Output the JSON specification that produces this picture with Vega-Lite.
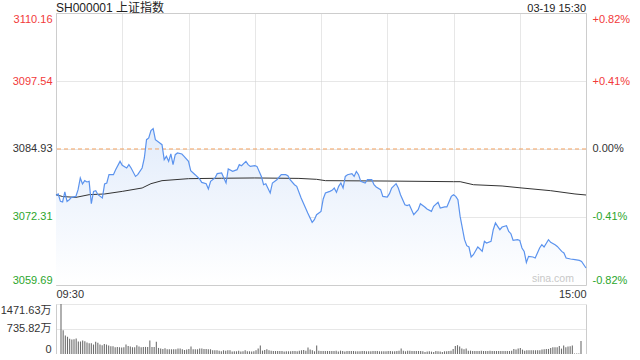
{
  "$schema": "https://vega.github.io/schema/vega-lite/v6.json",
  "autosize": {"type": "pad"},
  "padding": {"left": 0, "top": 1, "right": 0, "bottom": 0},
  "background": "white",
  "bounds": "flush",
  "spacing": 19,
  "config": {
    "font": "Liberation Sans, Noto Sans CJK SC",
    "view": {"stroke": "#cccccc"},
    "axis": {
      "labelFont": "Liberation Sans, Noto Sans CJK SC",
      "labelFontSize": 11,
      "labelColor": "#333333",
      "ticks": false,
      "domain": false,
      "gridColor": "#cfcfcf",
      "gridDash": [1, 1],
      "title": null
    }
  },
  "datasets": {
    "price": [
      {"t":0,"price":3076.32},{"t":1,"price":3076.58},{"t":2,"price":3075.21},{"t":3,"price":3075.09},{"t":4,"price":3076.95},{"t":5,"price":3075.21},{"t":6,"price":3075.52},{"t":7,"price":3075.95},{"t":9,"price":3076.13},{"t":10,"price":3077.38},
      {"t":11,"price":3079.55},{"t":12,"price":3078.43},{"t":13,"price":3079.05},{"t":14,"price":3078.81},{"t":15,"price":3078.92},{"t":16,"price":3074.78},{"t":17,"price":3077.06},{"t":18,"price":3077.19},{"t":19,"price":3076.45},{"t":21,"price":3075.84},
      {"t":22,"price":3078.43},{"t":23,"price":3078.62},{"t":24,"price":3080.16},{"t":26,"price":3080.16},{"t":27,"price":3081.09},{"t":29,"price":3082.63},{"t":30,"price":3081.89},{"t":32,"price":3081.40},{"t":33,"price":3082.02},{"t":34,"price":3081.40},
      {"t":36,"price":3079.84},{"t":37,"price":3080.16},{"t":39,"price":3081.40},{"t":40,"price":3083.26},{"t":41,"price":3086.66},{"t":42,"price":3086.97},{"t":43,"price":3088.33},{"t":44,"price":3088.70},{"t":45,"price":3086.66},{"t":47,"price":3086.04},
      {"t":48,"price":3085.73},{"t":49,"price":3082.94},{"t":50,"price":3083.56},{"t":51,"price":3082.63},{"t":52,"price":3084.00},{"t":53,"price":3082.02},{"t":54,"price":3083.87},{"t":55,"price":3084.19},{"t":57,"price":3084.00},{"t":58,"price":3083.56},
      {"t":60,"price":3082.63},{"t":61,"price":3080.90},{"t":63,"price":3080.16},{"t":65,"price":3079.36},{"t":66,"price":3078.73},{"t":68,"price":3078.49},{"t":69,"price":3077.51},{"t":70,"price":3078.92},{"t":72,"price":3079.55},{"t":73,"price":3080.35},
      {"t":75,"price":3080.48},{"t":77,"price":3078.62},{"t":78,"price":3081.22},{"t":80,"price":3080.77},{"t":82,"price":3081.09},{"t":83,"price":3082.02},{"t":84,"price":3081.83},{"t":86,"price":3082.63},{"t":87,"price":3082.02},{"t":88,"price":3081.70},
      {"t":90,"price":3081.83},{"t":91,"price":3081.70},{"t":93,"price":3079.84},{"t":94,"price":3078.30},{"t":95,"price":3078.49},{"t":97,"price":3076.76},{"t":98,"price":3078.62},{"t":100,"price":3079.23},{"t":102,"price":3080.16},{"t":104,"price":3080.16},
      {"t":105,"price":3079.97},{"t":106,"price":3079.23},{"t":108,"price":3078.30},{"t":109,"price":3077.99},{"t":111,"price":3075.84},{"t":112,"price":3074.91},{"t":114,"price":3073.05},{"t":116,"price":3071.31},{"t":117,"price":3071.81},{"t":118,"price":3072.74},
      {"t":120,"price":3073.35},{"t":121,"price":3075.65},{"t":122,"price":3076.76},{"t":124,"price":3077.06},{"t":125,"price":3077.25},{"t":126,"price":3077.69},{"t":127,"price":3076.88},{"t":128,"price":3077.99},{"t":129,"price":3078.62},{"t":130,"price":3077.69},
      {"t":131,"price":3079.84},{"t":132,"price":3080.16},{"t":134,"price":3080.35},{"t":135,"price":3079.84},{"t":136,"price":3080.77},{"t":137,"price":3080.16},{"t":138,"price":3078.92},{"t":140,"price":3078.62},{"t":141,"price":3079.23},{"t":143,"price":3079.23},
      {"t":144,"price":3078.30},{"t":145,"price":3077.88},{"t":147,"price":3077.38},{"t":148,"price":3076.13},{"t":150,"price":3076.02},{"t":151,"price":3076.63},{"t":152,"price":3077.69},{"t":154,"price":3078.49},{"t":155,"price":3077.69},{"t":156,"price":3076.45},
      {"t":158,"price":3074.59},{"t":159,"price":3074.41},{"t":160,"price":3074.59},{"t":162,"price":3072.74},{"t":164,"price":3073.66},{"t":165,"price":3074.78},{"t":167,"price":3074.17},{"t":168,"price":3073.79},{"t":170,"price":3073.35},{"t":171,"price":3074.28},
      {"t":173,"price":3075.02},{"t":174,"price":3073.98},{"t":176,"price":3074.17},{"t":177,"price":3074.17},{"t":179,"price":3076.13},{"t":180,"price":3076.45},{"t":181,"price":3076.13},{"t":182,"price":3075.52},{"t":183,"price":3072.42},{"t":185,"price":3068.10},
      {"t":186,"price":3066.98},{"t":187,"price":3066.74},{"t":188,"price":3064.89},{"t":189,"price":3065.31},{"t":191,"price":3066.74},{"t":192,"price":3066.37},{"t":193,"price":3065.93},{"t":194,"price":3067.78},{"t":195,"price":3067.48},{"t":197,"price":3067.78},
      {"t":198,"price":3069.95},{"t":199,"price":3071.20},{"t":200,"price":3070.57},{"t":201,"price":3069.95},{"t":202,"price":3070.45},{"t":204,"price":3070.70},{"t":205,"price":3069.64},{"t":206,"price":3069.21},{"t":207,"price":3067.97},{"t":209,"price":3068.10},
      {"t":210,"price":3067.97},{"t":211,"price":3066.56},{"t":212,"price":3065.93},{"t":213,"price":3063.88},{"t":214,"price":3065.00},{"t":216,"price":3064.89},{"t":217,"price":3064.70},{"t":219,"price":3066.56},{"t":220,"price":3067.17},{"t":221,"price":3066.74},
      {"t":223,"price":3068.10},{"t":224,"price":3067.60},{"t":226,"price":3067.17},{"t":227,"price":3066.85},{"t":229,"price":3065.93},{"t":230,"price":3065.63},{"t":231,"price":3064.70},{"t":233,"price":3064.52},{"t":235,"price":3064.39},{"t":237,"price":3064.26},
      {"t":238,"price":3064.07},{"t":240,"price":3062.84}
    ],
    "avg": [
      {"t":0,"avg":3076.45},{"t":3,"avg":3076.10},{"t":9,"avg":3075.95},{"t":15,"avg":3076.45},{"t":22,"avg":3076.58},{"t":30,"avg":3077.06},{"t":39,"avg":3077.69},{"t":43,"avg":3078.49},{"t":48,"avg":3079.05},{"t":60,"avg":3079.42},
      {"t":75,"avg":3079.50},{"t":90,"avg":3079.55},{"t":110,"avg":3079.47},{"t":118,"avg":3079.30},{"t":122,"avg":3079.05},{"t":150,"avg":3078.98},{"t":180,"avg":3078.86},{"t":183,"avg":3078.86},{"t":189,"avg":3078.30},{"t":202,"avg":3078.06},
      {"t":211,"avg":3077.69},{"t":224,"avg":3077.19},{"t":235,"avg":3076.58},{"t":240,"avg":3076.39}
    ],
    "vol": [
      {"t":0,"vol":1471.63},{"t":1,"vol":696},{"t":2,"vol":547},{"t":3,"vol":507},{"t":4,"vol":447},{"t":5,"vol":427},{"t":6,"vol":437},{"t":7,"vol":457},{"t":8,"vol":368},{"t":9,"vol":368},
      {"t":10,"vol":398},{"t":11,"vol":378},{"t":12,"vol":338},{"t":13,"vol":318},{"t":14,"vol":318},{"t":15,"vol":278},{"t":16,"vol":358},{"t":17,"vol":328},{"t":18,"vol":278},{"t":19,"vol":258},
      {"t":20,"vol":298},{"t":21,"vol":278},{"t":22,"vol":248},{"t":23,"vol":229},{"t":24,"vol":229},{"t":25,"vol":199},{"t":26,"vol":209},{"t":27,"vol":199},{"t":28,"vol":189},{"t":29,"vol":199},
      {"t":30,"vol":278},{"t":31,"vol":239},{"t":32,"vol":219},{"t":33,"vol":199},{"t":34,"vol":199},{"t":35,"vol":259},{"t":36,"vol":219},{"t":37,"vol":199},{"t":38,"vol":209},{"t":39,"vol":209},
      {"t":40,"vol":209},{"t":41,"vol":398},{"t":42,"vol":209},{"t":43,"vol":209},{"t":44,"vol":358},{"t":45,"vol":179},{"t":46,"vol":159},{"t":47,"vol":149},{"t":48,"vol":169},{"t":49,"vol":139},
      {"t":50,"vol":139},{"t":51,"vol":139},{"t":52,"vol":139},{"t":53,"vol":139},{"t":54,"vol":159},{"t":55,"vol":159},{"t":56,"vol":139},{"t":57,"vol":119},{"t":58,"vol":129},{"t":59,"vol":149},
      {"t":60,"vol":219},{"t":61,"vol":139},{"t":62,"vol":139},{"t":63,"vol":139},{"t":64,"vol":159},{"t":65,"vol":159},{"t":66,"vol":149},{"t":67,"vol":149},{"t":68,"vol":139},{"t":69,"vol":139},
      {"t":70,"vol":109},{"t":71,"vol":109},{"t":72,"vol":109},{"t":73,"vol":99},{"t":74,"vol":80},{"t":75,"vol":109},{"t":76,"vol":99},{"t":77,"vol":109},{"t":78,"vol":109},{"t":79,"vol":70},
      {"t":80,"vol":80},{"t":81,"vol":80},{"t":82,"vol":99},{"t":83,"vol":70},{"t":84,"vol":80},{"t":85,"vol":109},{"t":86,"vol":80},{"t":87,"vol":80},{"t":88,"vol":70},{"t":89,"vol":80},
      {"t":90,"vol":109},{"t":91,"vol":159},{"t":92,"vol":248},{"t":93,"vol":99},{"t":94,"vol":119},{"t":95,"vol":139},{"t":96,"vol":109},{"t":97,"vol":99},{"t":98,"vol":89},{"t":99,"vol":89},
      {"t":100,"vol":89},{"t":101,"vol":89},{"t":102,"vol":89},{"t":103,"vol":70},{"t":104,"vol":80},{"t":105,"vol":80},{"t":106,"vol":80},{"t":107,"vol":89},{"t":108,"vol":89},{"t":109,"vol":80},
      {"t":110,"vol":99},{"t":111,"vol":109},{"t":112,"vol":119},{"t":113,"vol":99},{"t":114,"vol":190},{"t":115,"vol":129},{"t":116,"vol":109},{"t":117,"vol":80},{"t":118,"vol":248},{"t":119,"vol":99},
      {"t":120,"vol":89},{"t":121,"vol":89},{"t":122,"vol":89},{"t":123,"vol":89},{"t":124,"vol":89},{"t":125,"vol":89},{"t":126,"vol":89},{"t":127,"vol":99},{"t":128,"vol":70},{"t":129,"vol":99},
      {"t":130,"vol":89},{"t":131,"vol":70},{"t":132,"vol":89},{"t":133,"vol":89},{"t":134,"vol":89},{"t":135,"vol":89},{"t":136,"vol":80},{"t":137,"vol":80},{"t":138,"vol":80},{"t":139,"vol":89},
      {"t":140,"vol":89},{"t":141,"vol":80},{"t":142,"vol":80},{"t":143,"vol":80},{"t":144,"vol":89},{"t":145,"vol":89},{"t":146,"vol":89},{"t":147,"vol":80},{"t":148,"vol":80},{"t":149,"vol":80},
      {"t":150,"vol":80},{"t":151,"vol":89},{"t":152,"vol":89},{"t":153,"vol":80},{"t":154,"vol":80},{"t":155,"vol":89},{"t":156,"vol":99},{"t":157,"vol":159},{"t":158,"vol":99},{"t":159,"vol":80},
      {"t":160,"vol":99},{"t":161,"vol":99},{"t":162,"vol":89},{"t":163,"vol":89},{"t":164,"vol":89},{"t":165,"vol":89},{"t":166,"vol":89},{"t":167,"vol":80},{"t":168,"vol":60},{"t":169,"vol":70},
      {"t":170,"vol":80},{"t":171,"vol":70},{"t":172,"vol":60},{"t":173,"vol":89},{"t":174,"vol":80},{"t":175,"vol":70},{"t":176,"vol":60},{"t":177,"vol":80},{"t":178,"vol":80},{"t":179,"vol":89},
      {"t":180,"vol":99},{"t":181,"vol":149},{"t":182,"vol":238},{"t":183,"vol":259},{"t":184,"vol":219},{"t":185,"vol":159},{"t":186,"vol":139},{"t":187,"vol":159},{"t":188,"vol":99},{"t":189,"vol":99},
      {"t":190,"vol":89},{"t":191,"vol":89},{"t":192,"vol":89},{"t":193,"vol":89},{"t":194,"vol":99},{"t":195,"vol":89},{"t":196,"vol":89},{"t":197,"vol":89},{"t":198,"vol":99},{"t":199,"vol":89},
      {"t":200,"vol":89},{"t":201,"vol":89},{"t":202,"vol":89},{"t":203,"vol":89},{"t":204,"vol":89},{"t":205,"vol":89},{"t":206,"vol":89},{"t":207,"vol":89},{"t":208,"vol":99},{"t":209,"vol":149},
      {"t":210,"vol":129},{"t":211,"vol":159},{"t":212,"vol":179},{"t":213,"vol":129},{"t":214,"vol":99},{"t":215,"vol":109},{"t":216,"vol":109},{"t":217,"vol":109},{"t":218,"vol":109},{"t":219,"vol":109},
      {"t":220,"vol":109},{"t":221,"vol":109},{"t":222,"vol":129},{"t":223,"vol":139},{"t":224,"vol":149},{"t":225,"vol":149},{"t":226,"vol":179},{"t":227,"vol":199},{"t":228,"vol":199},{"t":229,"vol":199},
      {"t":230,"vol":238},{"t":231,"vol":159},{"t":232,"vol":248},{"t":233,"vol":199},{"t":234,"vol":219},{"t":235,"vol":229},{"t":236,"vol":248},{"t":237,"vol":15},{"t":238,"vol":15},{"t":239,"vol":15},
      {"t":240,"vol":380}
    ],
    "info": [{"prevClose": 3084.93}]
  },
  "vconcat": [
    {
      "width": 530,
      "height": 272,
      "resolve": {"axis": {"y": "independent"}},
      "layer": [
        {
          "data": {"name": "price"},
          "mark": {
            "type": "area",
            "color": {
              "gradient": "linear",
              "x1": 0, "y1": 1, "x2": 0, "y2": 0,
              "stops": [
                {"offset": 0, "color": "#ffffff"},
                {"offset": 1, "color": "#e2ecfb"}
              ]
            }
          },
          "encoding": {
            "x": {
              "field": "t", "type": "quantitative",
              "scale": {"domain": [0, 240], "nice": false, "zero": false},
              "axis": {
                "values": [0, 30, 60, 90, 120, 150, 180, 210, 240],
                "labelExpr": "datum.value == 0 ? '09:30' : (datum.value == 240 ? '15:00' : '')",
                "labelFlush": true,
                "labelPadding": 3,
                "grid": true
              }
            },
            "y": {
              "field": "price", "type": "quantitative",
              "scale": {"domain": [3059.69, 3110.16], "nice": false, "zero": false},
              "axis": {
                "orient": "left",
                "values": [3059.69, 3072.31, 3084.93, 3097.54, 3110.16],
                "format": ".2f",
                "labelFlush": true,
                "labelPadding": 4,
                "grid": true,
                "labelColor": {
                  "condition": [
                    {"test": "datum.value > 3085", "value": "#f23a3a"},
                    {"test": "datum.value < 3084", "value": "#2ca62c"}
                  ],
                  "value": "#333333"
                }
              }
            },
            "y2": {"datum": 3059.69}
          }
        },
        {
          "data": {"name": "info"},
          "mark": {"type": "rule", "color": "#f4a261", "strokeDash": [4, 3], "strokeWidth": 1},
          "encoding": {
            "y": {
              "field": "prevClose", "type": "quantitative",
              "axis": {
                "orient": "right",
                "values": [3059.69, 3072.31, 3084.93, 3097.54, 3110.16],
                "labelExpr": "datum.value > 3085 ? '+' + format((datum.value - 3084.93) / 3084.93, '.2%') : (datum.value < 3084 ? '-' + format((3084.93 - datum.value) / 3084.93, '.2%') : '0.00%')",
                "labelFlush": true,
                "labelPadding": 6,
                "grid": false,
                "labelColor": {
                  "condition": [
                    {"test": "datum.value > 3085", "value": "#f23a3a"},
                    {"test": "datum.value < 3084", "value": "#2ca62c"}
                  ],
                  "value": "#333333"
                }
              }
            }
          }
        },
        {
          "data": {"name": "avg"},
          "mark": {"type": "line", "color": "#333333", "strokeWidth": 1},
          "encoding": {
            "x": {"field": "t", "type": "quantitative"},
            "y": {"field": "avg", "type": "quantitative", "axis": null}
          }
        },
        {
          "data": {"name": "price"},
          "mark": {"type": "line", "color": "#5b93ee", "strokeWidth": 1.2},
          "encoding": {
            "x": {"field": "t", "type": "quantitative"},
            "y": {"field": "price", "type": "quantitative", "axis": null}
          }
        },
        {
          "data": {"values": [{"label": "SH000001 上证指数"}]},
          "mark": {"type": "text", "align": "left", "baseline": "alphabetic", "dy": -1.5, "fontSize": 12, "color": "#222222"},
          "encoding": {
            "x": {"datum": 0, "type": "quantitative"},
            "y": {"datum": 3110.16, "type": "quantitative", "axis": null},
            "text": {"field": "label"}
          }
        },
        {
          "data": {"values": [{"label": "03-19 15:30"}]},
          "mark": {"type": "text", "align": "right", "baseline": "alphabetic", "dy": -1.5, "fontSize": 11, "color": "#222222"},
          "encoding": {
            "x": {"datum": 240, "type": "quantitative"},
            "y": {"datum": 3110.16, "type": "quantitative", "axis": null},
            "text": {"field": "label"}
          }
        },
        {
          "data": {"values": [{"label": "sina.com"}]},
          "mark": {"type": "text", "align": "center", "baseline": "alphabetic", "fontSize": 10.5, "color": "#c8c8c8"},
          "encoding": {
            "x": {"datum": 225, "type": "quantitative"},
            "y": {"datum": 3060.3, "type": "quantitative", "axis": null},
            "text": {"field": "label"}
          }
        }
      ]
    },
    {
      "width": 530,
      "height": 50,
      "view": {"stroke": null},
      "data": {"name": "vol"},
      "resolve": {"axis": {"y": "independent"}},
      "layer": [
        {
          "mark": {"type": "bar", "color": "#6e6e6e", "width": 1.1},
          "encoding": {
            "x": {
              "field": "t", "type": "quantitative",
              "scale": {"domain": [0, 240], "nice": false, "zero": false},
              "axis": null
            },
            "y": {
              "field": "vol", "type": "quantitative",
              "scale": {"domain": [0, 1471.63], "nice": false},
              "axis": {
                "orient": "left",
                "values": [0, 735.82, 1471.63],
                "labelExpr": "datum.value == 0 ? '0' : format(datum.value, '.2f') + '万'",
                "labelFlush": true,
                "labelPadding": 5,
                "grid": true,
                "gridOpacity": {"condition": {"test": "datum.value == 0", "value": 0}, "value": 1},
                "domain": true,
                "domainColor": "#cccccc"
              }
            }
          }
        },
        {
          "mark": {"type": "rule", "opacity": 0},
          "encoding": {
            "y": {
              "datum": 0, "type": "quantitative",
              "axis": {"orient": "right", "labels": false, "grid": false, "domain": true, "domainColor": "#cccccc"}
            }
          }
        }
      ]
    }
  ]
}
